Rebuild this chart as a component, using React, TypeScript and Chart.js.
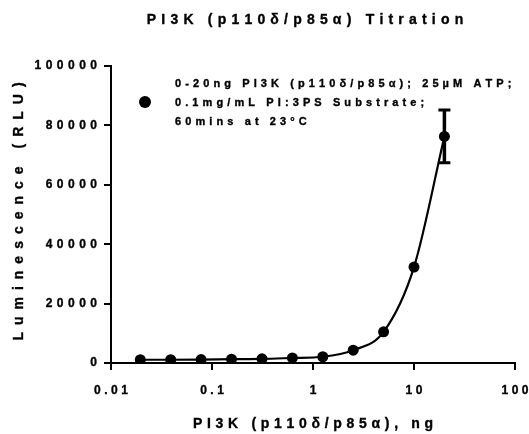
import React, { useEffect, useRef } from "react";
import { Chart, registerables } from "chart.js";

Chart.register(...registerables);

// ---- data ----
const amountNg = [0.0195, 0.039, 0.078, 0.156, 0.3125, 0.625, 1.25, 2.5, 5, 10, 20];
const luminescence = [1100, 1100, 1150, 1300, 1400, 1700, 2100, 4300, 10500, 32300, 76300];
const errorRLU = [0, 0, 0, 0, 0, 0, 0, 0, 0, 0, 8900];
const xTicks = [0.01, 0.1, 1, 10, 100];
const xTickLabels = ["0.01", "0.1", "1", "10", "100"];
const yTicks = [0, 20000, 40000, 60000, 80000, 100000];
const yTickLabels = ["0", "20000", "40000", "60000", "80000", "100000"];
const titleText = "PI3K (p110δ/p85α) Titration";
const xTitleText = "PI3K (p110δ/p85α), ng";
const yTitleText = "Luminescence (RLU)";
const legendLines = [
  "0-20ng PI3K (p110δ/p85α); 25µM ATP;",
  "0.1mg/mL PI:3PS Substrate;",
  "60mins at 23°C",
];

const FAMILY = '"Liberation Sans", Arial, Helvetica, sans-serif';

function spacedWidth(ctx: CanvasRenderingContext2D, text: string, spacing: number) {
  let w = 0;
  const chars = Array.from(text);
  chars.forEach((ch, i) => {
    w += ctx.measureText(ch).width;
    if (i < chars.length - 1) w += spacing;
  });
  return w;
}

function drawSpaced(
  ctx: CanvasRenderingContext2D,
  text: string,
  x: number,
  y: number,
  size: number,
  spacing: number,
  align: "left" | "center" | "right",
  rotate = false
) {
  ctx.save();
  ctx.font = `bold ${size}px ${FAMILY}`;
  ctx.fillStyle = "#000";
  ctx.strokeStyle = "#000";
  ctx.lineWidth = 0.35;
  ctx.textBaseline = "middle";
  ctx.textAlign = "left";
  const w = spacedWidth(ctx, text, spacing);
  ctx.translate(x, y);
  if (rotate) ctx.rotate(-Math.PI / 2);
  let cx = align === "left" ? 0 : align === "center" ? -w / 2 : -w;
  for (const ch of Array.from(text)) {
    ctx.fillText(ch, cx, 0);
    ctx.strokeText(ch, cx, 0);
    cx += ctx.measureText(ch).width + spacing;
  }
  ctx.restore();
}

const textPlugin = {
  id: "textPlugin",
  afterDraw(chart: any) {
    const ctx = chart.ctx as CanvasRenderingContext2D;
    const xs = chart.scales.x;
    const ys = chart.scales.y;
    const area = chart.chartArea;
    // title
    drawSpaced(ctx, titleText, 305, 20, 14, 5.2, "center");
    // y tick labels
    yTicks.forEach((v, i) => {
      drawSpaced(ctx, yTickLabels[i], area.left - 14, ys.getPixelForValue(v), 12, 4.5, "right");
    });
    // x tick labels
    xTicks.forEach((v, i) => {
      drawSpaced(ctx, xTickLabels[i], xs.getPixelForValue(v), area.bottom + 28, 12, 3.5, "center");
    });
    // axis titles
    drawSpaced(ctx, xTitleText, (area.left + area.right) / 2, area.bottom + 61, 14, 4.7, "center");
    drawSpaced(ctx, yTitleText, 19, (area.top + area.bottom) / 2 - 3, 14, 7, "center", true);
    // legend
    ctx.save();
    ctx.fillStyle = "#000";
    ctx.beginPath();
    ctx.arc(145, 102, 6, 0, Math.PI * 2);
    ctx.fill();
    ctx.restore();
    const ly = [84, 103, 122];
    legendLines.forEach((t, i) => drawSpaced(ctx, t, 175, ly[i], 11, 4.1, "left"));
  },
};

const errorBarPlugin = {
  id: "errorBars",
  afterDatasetsDraw(chart: any) {
    const ctx = chart.ctx as CanvasRenderingContext2D;
    const xs = chart.scales.x;
    const ys = chart.scales.y;
    ctx.save();
    ctx.strokeStyle = "#000";
    amountNg.forEach((xv, i) => {
      const e = errorRLU[i];
      if (!e) return;
      const px = xs.getPixelForValue(xv);
      const top = ys.getPixelForValue(luminescence[i] + e);
      const bot = ys.getPixelForValue(luminescence[i] - e);
      ctx.lineWidth = 3.5;
      ctx.beginPath();
      ctx.moveTo(px, top);
      ctx.lineTo(px, bot);
      ctx.stroke();
      ctx.lineWidth = 3;
      ctx.beginPath();
      ctx.moveTo(px - 6, top);
      ctx.lineTo(px + 6, top);
      ctx.moveTo(px - 6, bot);
      ctx.lineTo(px + 6, bot);
      ctx.stroke();
    });
    ctx.restore();
  },
};

export default function App() {
  const ref = useRef<HTMLCanvasElement | null>(null);
  useEffect(() => {
    if (!ref.current) return;
    const chart = new Chart(ref.current, {
      type: "line",
      data: {
        datasets: [
          {
            data: amountNg.map((x, i) => ({ x, y: luminescence[i] })),
            borderColor: "#000",
            backgroundColor: "#000",
            borderWidth: 2.2,
            pointRadius: 5.5,
            pointBackgroundColor: "#000",
            pointBorderWidth: 0,
            cubicInterpolationMode: "monotone",
          },
        ],
      },
      options: {
        animation: false,
        responsive: true,
        maintainAspectRatio: false,
        layout: { padding: { top: 66, right: 14, bottom: 0, left: 0 } },
        plugins: { legend: { display: false }, tooltip: { enabled: false }, title: { display: false } },
        scales: {
          x: {
            type: "logarithmic",
            min: 0.01,
            max: 100,
            afterBuildTicks: (s: any) => {
              s.ticks = xTicks.map((v) => ({ value: v }));
            },
            afterFit: (s: any) => {
              s.height = 71;
            },
            ticks: { display: false },
            grid: { drawOnChartArea: false, drawTicks: true, tickLength: 7, color: "#000", lineWidth: 2 },
            border: { display: true, color: "#000", width: 2 },
          },
          y: {
            type: "linear",
            min: 0,
            max: 100000,
            afterBuildTicks: (s: any) => {
              s.ticks = yTicks.map((v) => ({ value: v }));
            },
            afterFit: (s: any) => {
              s.width = 111;
            },
            ticks: { display: false },
            grid: { drawOnChartArea: false, drawTicks: true, tickLength: 7, color: "#000", lineWidth: 2 },
            border: { display: true, color: "#000", width: 2 },
          },
        },
      },
      plugins: [errorBarPlugin, textPlugin],
    } as any);
    return () => chart.destroy();
  }, []);
  return (
    <div style={{ position: "fixed", left: 0, top: 0, width: 529, height: 434, background: "#fff" }}>
      <canvas ref={ref} />
    </div>
  );
}
